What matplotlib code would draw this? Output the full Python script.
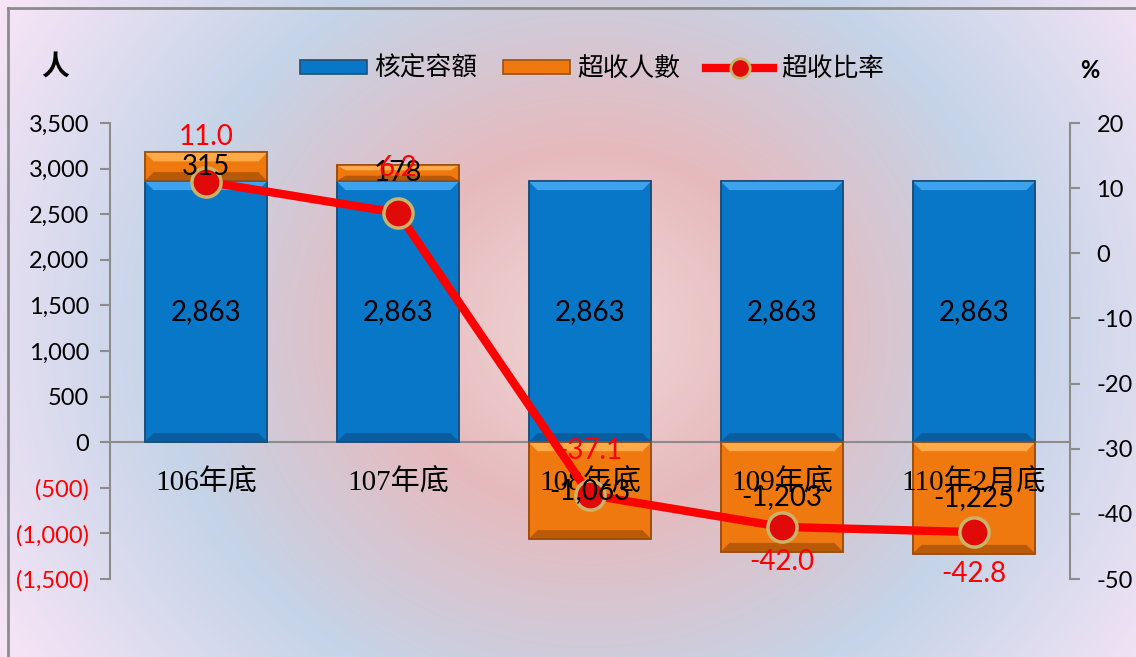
import numpy as np
import matplotlib.pyplot as plt
from matplotlib.patches import Polygon, Rectangle
from matplotlib.lines import Line2D
from matplotlib.ticker import FuncFormatter

plt.rcParams["axes.unicode_minus"] = False

# data
categories = ["106年底", "107年底", "108年底", "109年底", "110年2月底"]
capacity = [2863, 2863, 2863, 2863, 2863]
over_count = [315, 178, -1063, -1203, -1225]
over_ratio = [11.0, 6.2, -37.1, -42.0, -42.8]
left_ticks = [-1500, -1000, -500, 0, 500, 1000, 1500, 2000, 2500, 3000, 3500]
right_ticks = [-50, -40, -30, -20, -10, 0, 10, 20]

W, H = 1136, 657
NUM_FONT = ["Lato", "DejaVu Sans"]
CJK_FONT = ["Noto Sans CJK TC", "DejaVu Sans"]
CAT_FONT = ["Liberation Serif", "Noto Sans CJK TC"]

fig = plt.figure(figsize=(W / 100, H / 100), dpi=100)

# radial background
bg = fig.add_axes([0, 0, 1, 1], zorder=-10)
yy, xx = np.mgrid[0:H, 0:W]
r = np.hypot(xx - 590, (yy - 330) * 1.1)
stops = [0, 200, 430, 680]
cols = np.array([[241, 214, 214], [230, 186, 189], [197, 212, 232], [246, 228, 246]]) / 255
img = np.stack([np.interp(r, stops, cols[:, i]) for i in range(3)], axis=-1)
bg.imshow(img, extent=[0, W, H, 0], aspect="auto")
bg.set_xlim(0, W)
bg.set_ylim(H, 0)
bg.axis("off")
bg.add_line(Line2D([8, 8], [8, H + 5], color="#8c8c8c", lw=2))
bg.add_line(Line2D([8, W + 5], [8, 8], color="#8c8c8c", lw=2))

ax = fig.add_axes([110 / W, 1 - 579 / H, 960 / W, 456 / H])
ax.set_facecolor("none")
ax.set_xlim(-0.5, 4.5)
ax.set_ylim(-1500, 3500)
ax2 = ax.twinx()
ax2.set_ylim(-50, 20)
ax2.set_zorder(ax.get_zorder() + 1)
ax2.patch.set_visible(False)

# pixel -> data sizes for the bevel
px_x = 5 / 960
px_y = 5000 / 456


def bevel_bar(x, bottom, height, width, face, light, dark, edge):
    x0, x1 = x - width / 2, x + width / 2
    y0, y1 = min(bottom, bottom + height), max(bottom, bottom + height)
    bx, by = 9 * px_x, 9 * px_y
    by = min(by, (y1 - y0) / 3)
    ax.add_patch(Rectangle((x0, y0), width, y1 - y0, facecolor=face,
                           edgecolor=edge, lw=1.2, zorder=2))
    ax.add_patch(Polygon([(x0, y1), (x1, y1), (x1 - bx, y1 - by), (x0 + bx, y1 - by)],
                         closed=True, facecolor=light, edgecolor="none", zorder=2.1))
    ax.add_patch(Polygon([(x0, y0), (x1, y0), (x1 - bx, y0 + by), (x0 + bx, y0 + by)],
                         closed=True, facecolor=dark, edgecolor="none", zorder=2.1))
    ax.add_patch(Rectangle((x0, y0), width, y1 - y0, facecolor="none",
                           edgecolor=edge, lw=1.2, zorder=2.2))


xs = np.arange(len(categories))
bw = 0.64
blue = ("#0877C8", "#3DA3EE", "#0A5C9E", "#1F4E79")
orange = ("#F0790F", "#FFAA48", "#B85A08", "#9C4F10")

for i, x in enumerate(xs):
    bevel_bar(x, 0, capacity[i], bw, *blue)
    ax.text(x, capacity[i] / 2, f"{capacity[i]:,}", ha="center", va="center",
            fontsize=20, family=NUM_FONT, zorder=5)
    base = capacity[i] if over_count[i] > 0 else 0
    bevel_bar(x, base, over_count[i], bw, *orange)
    # value labels sit above the ratio markers, so draw them on ax2
    ax2.text(x, base + over_count[i] / 2, f"{over_count[i]:,}", ha="center", va="center",
             fontsize=20, family=NUM_FONT, zorder=9, transform=ax.transData)
    ax.annotate(categories[i], (x, 0), xytext=(0, -29), textcoords="offset points",
                ha="center", va="center", fontsize=21, family=CAT_FONT, zorder=4)

ax.axhline(0, color="#8c8c8c", lw=1.5, zorder=1.5)

# ratio line
ax2.plot(xs, over_ratio, color="#FF0000", lw=6, zorder=6, solid_capstyle="butt")
ax2.plot(xs, over_ratio, "o", ms=21, mfc="#E00A0A", mec="#C8B46A", mew=2.5, zorder=7)
for i, x in enumerate(xs):
    dy = 32 if i < 3 else (-25 if i == 3 else -30)
    ax2.annotate(f"{over_ratio[i]:.1f}", (x, over_ratio[i]), xytext=(0, dy),
                 textcoords="offset points", ha="center", va="center", fontsize=20,
                 color="#FF0000", family=NUM_FONT, zorder=10)

# axes styling
for a in (ax, ax2):
    for s in ("top", "bottom"):
        a.spines[s].set_visible(False)
    a.tick_params(axis="x", bottom=False, labelbottom=False)
ax.spines["right"].set_visible(False)
ax.spines["left"].set_color("#8c8c8c")
ax.spines["left"].set_linewidth(1.5)
ax2.spines["left"].set_visible(False)
ax2.spines["right"].set_color("#8c8c8c")
ax2.spines["right"].set_linewidth(1.5)

ax.set_yticks(left_ticks)
ax.yaxis.set_major_formatter(FuncFormatter(
    lambda v, p: f"({abs(v):,.0f})" if v < 0 else f"{v:,.0f}"))
ax.tick_params(axis="y", direction="out", length=7, width=1.5, color="#8c8c8c",
               labelsize=17, pad=8)
for t, v in zip(ax.get_yticklabels(), left_ticks):
    t.set_family(NUM_FONT)
    t.set_color("#FF0000" if v < 0 else "black")

ax2.set_yticks(right_ticks)
ax2.tick_params(axis="y", direction="out", length=7, width=1.5, color="#8c8c8c",
                labelsize=17, pad=12)
for t in ax2.get_yticklabels():
    t.set_family(NUM_FONT)

fig.text(55 / W, 1 - 68 / H, "人", ha="center", va="center", fontsize=20,
         family=CJK_FONT, weight="bold")
fig.text(1090 / W, 1 - 70 / H, "%", ha="center", va="center", fontsize=17,
         family=NUM_FONT, weight="bold")

# legend
handles = [
    Rectangle((0, 0), 1, 1, facecolor=blue[0], edgecolor=blue[3], lw=1.2),
    Rectangle((0, 0), 1, 1, facecolor=orange[0], edgecolor=orange[3], lw=1.2),
    Line2D([], [], color="#FF0000", lw=6, marker="o", ms=14, mfc="#E00A0A",
           mec="#C8B46A", mew=2),
]
fig.legend(handles, ["核定容額", "超收人數", "超收比率"], loc="center",
           bbox_to_anchor=(592 / W, 1 - 69 / H), ncol=3, frameon=False,
           prop={"family": CJK_FONT, "size": 18.5}, handlelength=2.6,
           handleheight=0.5, handletextpad=0.3, columnspacing=1.0)

fig.savefig("out.png", dpi=100)
